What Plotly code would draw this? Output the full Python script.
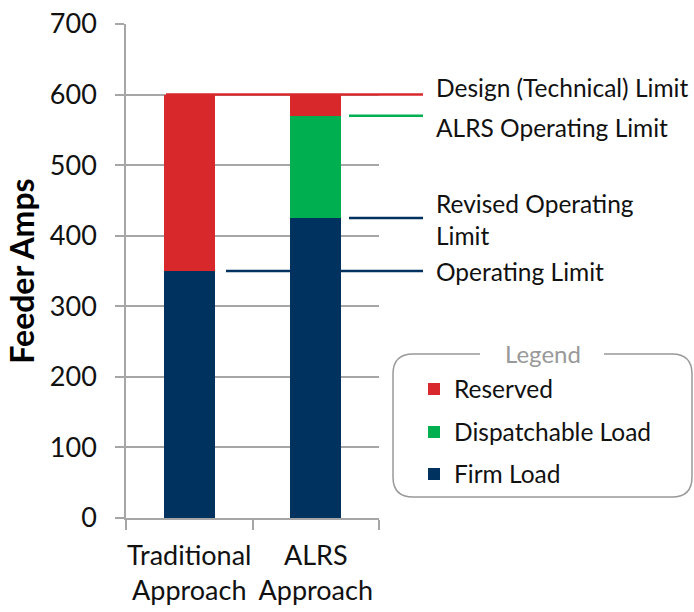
import plotly.graph_objects as go

# ---- data ----
categories = ["Traditional<br>Approach", "ALRS<br>Approach"]
firm_load = [350, 425]
dispatchable_load = [0, 145]
reserved = [250, 30]

series_names = ["Firm Load", "Dispatchable Load", "Reserved"]
series_colors = ["#00325F", "#00B050", "#D9282C"]

limit_labels = ["Design (Technical) Limit", "ALRS Operating Limit",
                "Revised Operating<br>Limit", "Operating Limit"]
limit_values = [600, 570, 425, 350]
limit_colors = ["#D9282C", "#00B050", "#00325F", "#00325F"]
label_values = [610, 553, 423, 349]

y_ticks = [0, 100, 200, 300, 400, 500, 600, 700]

FONT = "Lato"

# ---- layout geometry (pixels) ----
W, H = 694, 612
L, R, T, B = 126, 315, 24, 94
PW = W - L - R
PH = H - T - B


def px_x(px):
    return (px - L) / PW


def px_y(py):
    return (H - B - py) / PH


fig = go.Figure()
values = [firm_load, dispatchable_load, reserved]
legend_ids = ["legend3", "legend2", "legend"]
for name, vals, col, lg in zip(series_names, values, series_colors, legend_ids):
    fig.add_trace(go.Bar(x=categories, y=vals, name=name, marker_color=col,
                         marker_line_width=0, legend=lg))

# limit lines (x in paper, y in data)
line_x0 = [px_x(166), px_x(349), px_x(349), px_x(226)]
line_x1 = px_x(423)
shapes = []
for v, c, x0 in zip(limit_values, limit_colors, line_x0):
    shapes.append(dict(type="line", xref="paper", yref="y", x0=x0, x1=line_x1,
                       y0=v, y1=v, line=dict(color=c, width=2.5), layer="above"))

# rounded legend box with a gap for the title
bx0, bx1, by0, by1 = px_x(393), px_x(692), px_y(497), px_y(354)
rx, ry = 20 / PW, 20 / PH
g0, g1 = px_x(480), px_x(604)
path = (f"M {g1},{by1} L {bx1-rx},{by1} Q {bx1},{by1} {bx1},{by1-ry} "
        f"L {bx1},{by0+ry} Q {bx1},{by0} {bx1-rx},{by0} "
        f"L {bx0+rx},{by0} Q {bx0},{by0} {bx0},{by0+ry} "
        f"L {bx0},{by1-ry} Q {bx0},{by1} {bx0+rx},{by1} L {g0},{by1}")
shapes.append(dict(type="path", xref="paper", yref="paper", path=path,
                   line=dict(color="#999999", width=1.5)))

annotations = []
for txt, yv in zip(limit_labels, label_values):
    annotations.append(dict(text=txt, xref="paper", yref="y", x=px_x(434), y=yv,
                            xanchor="left", yanchor="middle", showarrow=False,
                            align="left", font=dict(family=FONT, size=24.5, color="#111111")))
annotations.append(dict(text="Legend", xref="paper", yref="paper", x=px_x(543),
                        y=px_y(353), xanchor="center", yanchor="middle", showarrow=False,
                        font=dict(family=FONT, size=24, color="#999999")))

leg_font = dict(family=FONT, size=24.5, color="#111111")
leg_common = dict(xref="paper", yref="paper", xanchor="left", yanchor="middle",
                  bgcolor="rgba(0,0,0,0)", borderwidth=0, font=leg_font)

fig.update_layout(
    width=W, height=H,
    margin=dict(l=L, r=R, t=T, b=B, autoexpand=False),
    paper_bgcolor="white", plot_bgcolor="white",
    barmode="stack", bargap=0.6,
    font=dict(family=FONT, color="#111111"),
    showlegend=True,
    legend=dict(x=px_x(414), y=px_y(389), **leg_common),
    legend2=dict(x=px_x(414), y=px_y(432), **leg_common),
    legend3=dict(x=px_x(414), y=px_y(474), **leg_common),
    xaxis=dict(showline=True, linecolor="#A6A6A6", linewidth=1.5, automargin=False,
               ticks="outside", tickson="boundaries", ticklen=10, tickcolor="#A6A6A6",
               tickwidth=1.5, tickangle=0, ticklabelstandoff=13,
               tickfont=dict(family=FONT, size=27, color="#111111"),
               showgrid=False),
    yaxis=dict(range=[0, 700], tickvals=y_ticks, showline=True, linecolor="#A6A6A6",
               linewidth=1.5, ticks="outside", ticklen=9, tickcolor="#A6A6A6",
               tickwidth=1.5, showgrid=True, gridcolor="#A6A6A6", gridwidth=1.5,
               zeroline=False, ticklabelstandoff=13, automargin=False,
               tickfont=dict(family=FONT, size=27, color="#111111"),
               title=dict(text="<b>Feeder Amps</b>", standoff=6,
                          font=dict(family=FONT, size=32, color="#000000"))),
    shapes=shapes,
    annotations=annotations,
)

fig.write_html("out.html", config={"displayModeBar": False},
               post_script="document.body.style.margin='0';")
